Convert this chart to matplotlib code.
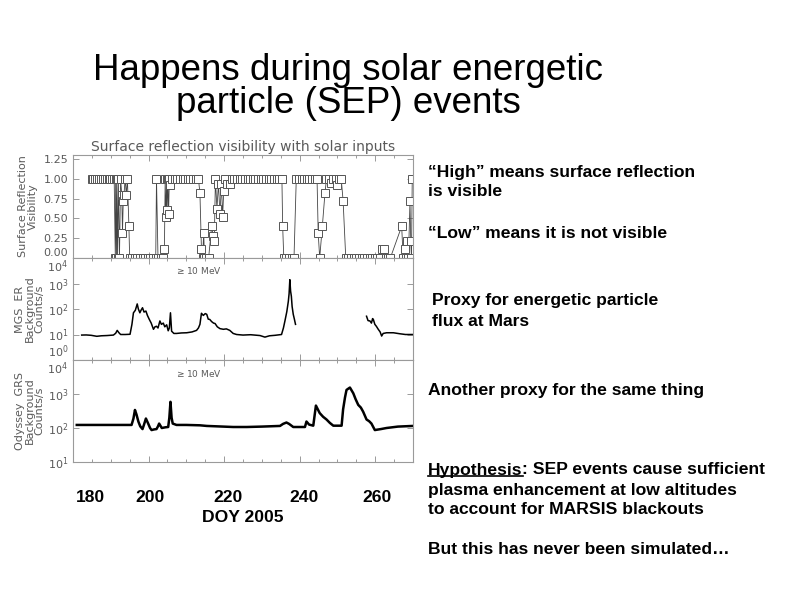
"""
slide: SEP events vs MARSIS surface reflection visibility
"""

import numpy as np
import matplotlib
matplotlib.use('Agg')
import matplotlib.pyplot as plt
from matplotlib.ticker import MultipleLocator
from matplotlib.lines import Line2D

# surface reflection visibility (DOY, value), in time order
vis_points = [
    (184.9, 1.0), (185.4, 1.0), (185.9, 1.0), (186.4, 1.0), (186.9, 1.0), (187.4, 1.0),
    (187.9, 1.0), (188.4, 1.0), (188.9, 1.0), (189.4, 1.0), (189.9, 1.0), (190.4, 1.0),
    (190.9, 1.0), (191.2, 0.0), (191.3, 1.0), (191.5, 0.0), (191.6, 1.0), (191.8, 0.0),
    (192.0, 1.0), (192.3, 0.0), (192.6, 1.0), (192.9, 0.8), (193.1, 0.32), (193.3, 0.72),
    (193.5, 0.8), (193.8, 1.0), (194.1, 0.8), (194.4, 1.0), (194.8, 0.4), (195.0, 0.0),
    (195.6, 0.0), (196.3, 0.0), (197.0, 0.0), (197.7, 0.0), (198.4, 0.0), (199.1, 0.0),
    (199.8, 0.0), (200.5, 0.0), (201.2, 0.0), (201.9, 0.0), (202.1, 1.0), (202.5, 0.0),
    (203.2, 0.0), (203.9, 0.0), (204.2, 0.11), (204.4, 1.0), (204.6, 0.52), (204.8, 1.0),
    (204.9, 0.6), (205.1, 1.0), (205.3, 0.55), (205.5, 1.0), (205.8, 0.92), (206.2, 1.0),
    (206.9, 1.0), (207.6, 1.0), (208.3, 1.0), (209.0, 1.0), (209.7, 1.0), (210.4, 1.0),
    (211.1, 1.0), (211.8, 1.0), (212.5, 1.0), (213.2, 1.0), (213.6, 0.82), (214.0, 0.11),
    (214.3, 0.0), (214.6, 0.32), (214.8, 0.0), (215.3, 0.0), (215.9, 0.0), (216.7, 0.4),
    (217.1, 0.28), (217.4, 0.21), (217.7, 1.0), (218.1, 0.62), (218.5, 0.94), (218.9, 0.55),
    (219.3, 0.94), (219.6, 0.52), (219.9, 0.84), (220.3, 1.0), (220.8, 0.94), (221.5, 0.94),
    (222.0, 1.0), (222.7, 1.0), (223.4, 1.0), (224.1, 1.0), (224.8, 1.0), (225.5, 1.0),
    (226.2, 1.0), (226.9, 1.0), (227.6, 1.0), (228.3, 1.0), (229.0, 1.0), (229.7, 1.0),
    (230.4, 1.0), (231.1, 1.0), (231.8, 1.0), (232.5, 1.0), (233.2, 1.0), (233.9, 1.0),
    (234.6, 1.0), (235.3, 1.0), (235.5, 0.4), (235.8, 0.0), (236.5, 0.0), (237.2, 0.0),
    (237.9, 0.0), (238.5, 0.0), (239.1, 1.0), (239.8, 1.0), (240.5, 1.0), (241.2, 1.0),
    (241.9, 1.0), (242.6, 1.0), (243.3, 1.0), (244.0, 1.0), (244.6, 1.0), (244.9, 0.32),
    (245.3, 0.0), (246.0, 0.4), (246.7, 0.82), (247.1, 1.0), (247.7, 1.0), (248.3, 0.95),
    (248.9, 1.0), (249.5, 1.0), (249.8, 0.92), (250.4, 1.0), (251.0, 1.0), (251.5, 0.72),
    (252.2, 0.0), (252.9, 0.0), (253.6, 0.0), (254.3, 0.0), (255.0, 0.0), (255.7, 0.0),
    (256.4, 0.0), (257.1, 0.0), (257.8, 0.0), (258.5, 0.0), (259.2, 0.0), (259.9, 0.0),
    (260.6, 0.0), (261.3, 0.0), (261.7, 0.11), (262.2, 0.11), (262.8, 0.0), (263.4, 0.0),
    (264.0, 0.0), (267.0, 0.4), (267.4, 0.0), (267.8, 0.11), (268.2, 0.0), (268.5, 0.22),
    (268.8, 0.0), (269.2, 0.72), (269.4, 0.22), (269.6, 0.0), (269.8, 1.0),
]

# MGS ER background counts/s (>=10 MeV); nan = data gap
mgs_doy = [182.3, 183.5, 184.8, 186.3, 187.5, 189.0, 190.7, 191.3, 191.7, 192.1, 192.6, 193.8,
           195.1, 195.6, 196.0, 196.5, 197.0, 197.3, 197.7, 198.0, 198.4, 198.8, 199.3, 199.7,
           200.2, 200.7, 201.3, 201.7, 202.1, 202.5, 203.0, 203.4, 203.9, 204.3, 204.8, 205.2,
           205.5, 205.8, 206.1, 206.7, 207.4, 208.7, 210.1, 211.5, 212.7, 213.2, 213.6, 214.0,
           214.5, 215.0, 215.4, 215.8, 216.2, 216.7, 217.2, 217.6, 218.2, 218.9, 219.8, 220.6,
           221.5, 222.4, 223.3, 225.0, 227.0, 229.5, 230.8, 232.0, 233.5, 235.2, 235.7, 236.1,
           236.6, 237.0, 237.2, 237.4, 237.6, 237.8, 238.0, 238.3, 238.6, 238.9, 248.0,
           257.7, 258.1, 258.6, 259.0, 259.3, 259.5, 259.9, 260.3, 260.8, 261.3, 261.7, 262.1,
           263.0, 264.8, 266.5, 268.0, 270.0]
mgs_counts = [9.5, 9.6, 9.3, 8.5, 8.9, 9.1, 9.5, 11.2, 14.5, 12, 10, 10,
              10.2, 25, 71, 89, 158, 100, 71, 89, 112, 76, 83, 56,
              39, 28, 16, 20, 21, 18, 34, 25, 28, 20, 24, 14,
              18, 71, 13.5, 11, 11, 11.5, 11.7, 12.6, 14.5, 18, 25, 68,
              56, 66, 62, 40, 39, 32, 28, 27, 20, 17, 16, 16.6,
              14.5, 11, 10, 9.5, 9.8, 9.1, 7.9, 8.9, 9.3, 10, 18, 34,
              79, 200, 400, 1410, 500, 316, 126, 62, 40, 25, np.nan,
              52, 35, 34, 28, 42, 39, 25, 21, 16, 12.6, 8.7, 11,
              11.7, 11.7, 10.7, 10, 10]

# Odyssey GRS background counts/s (>=10 MeV)
grs_doy = [181.0, 183.0, 185.0, 190.0, 195.5, 196.0, 196.4, 196.8, 197.3, 197.8, 198.4, 198.8,
           199.3, 199.9, 200.4, 200.8, 201.5, 202.1, 202.5, 202.8, 203.5, 204.5, 205.2, 205.5,
           205.8, 206.1, 206.4, 207.4, 210.0, 213.6, 215.4, 218.0, 222.4, 226.0, 230.0, 234.8,
           235.6, 236.5, 237.2, 238.3, 241.4, 241.8, 242.5, 243.6, 244.3, 245.3, 246.2, 247.1,
           248.0, 248.9, 251.1, 251.5, 252.0, 252.4, 253.3, 254.2, 254.8, 255.5, 256.2, 256.8,
           257.7, 258.4, 259.0, 259.9, 261.5, 263.0, 266.0, 270.0]
grs_counts = [123, 123, 123, 123, 123, 190, 339, 251, 155, 112, 93, 126,
              190, 135, 100, 87, 91, 93, 112, 135, 100, 105, 107, 200,
              589, 200, 135, 123, 123, 120, 115, 112, 107, 107, 110, 115,
              132, 145, 132, 107, 107, 155, 126, 117, 457, 275, 214, 178,
              141, 117, 117, 355, 794, 1318, 1549, 1047, 708, 479, 398, 302,
              178, 158, 135, 87, 93, 100, 110, 115]

vis_ticks = [0, 0.25, 0.5, 0.75, 1.0, 1.25]
mgs_ticks = [1, 10, 100, 1e3, 1e4]
grs_ticks = [10, 100, 1e3, 1e4]

doy_labels = ['180', '200', '220', '240', '260']
doy_label_x = [90, 150, 228, 304, 377]   # pixel centres on the slide

W, H = 794, 595
fig = plt.figure(figsize=(W / 100, H / 100), dpi=100)
fig.patch.set_facecolor('white')

def fx(px):
    return px / W

def fy(py):
    return 1 - py / H

axcol = '#9a9a9a'
labcol = '#5a5a5a'

def style(ax):
    for sp in ax.spines.values():
        sp.set_color(axcol)
        sp.set_linewidth(0.8)
    ax.tick_params(which='both', direction='in', top=True, right=True,
                   colors=axcol, labelcolor=labcol, labelsize=8, width=0.7)
    ax.tick_params(which='major', length=4)
    ax.tick_params(which='minor', length=2)
    ax.set_xlim(180, 270)
    ax.xaxis.set_major_locator(MultipleLocator(20))
    ax.xaxis.set_minor_locator(MultipleLocator(5))
    ax.set_xticklabels([])

left, width = fx(73), (413 - 73) / W
ax1 = fig.add_axes([left, fy(258), width, 103 / H])
ax2 = fig.add_axes([left, fy(360), width, 102 / H])
ax3 = fig.add_axes([left, fy(462), width, 102 / H])

# top panel: visibility
vd = [p[0] for p in vis_points]
vv = [p[1] for p in vis_points]
ax1.plot(vd, vv, color='#444444', lw=0.6, marker='s', ms=5.5,
         mfc='white', mec='#555555', mew=0.7)
ax1.set_ylim(0, 1.30)
ax1.set_yticks(vis_ticks)
ax1.set_yticklabels(['%.2f' % t for t in vis_ticks])
style(ax1)
ax1.set_ylabel('Surface Reflection\nVisibility', color=labcol, fontsize=8,
               linespacing=1.0, labelpad=4)
ax1.set_title('Surface reflection visibility with solar inputs',
              color=labcol, fontsize=10, pad=3)

# middle panel: MGS ER
ax2.plot(mgs_doy, mgs_counts, color='black', lw=1.1)
ax2.set_yscale('log')
ax2.set_ylim(1, 1e4)
style(ax2)
ax2.set_yticks(mgs_ticks)
ax2.minorticks_off()
ax2.xaxis.set_minor_locator(MultipleLocator(5))
ax2.set_ylabel('MGS  ER\nBackground\nCounts/s', color=labcol, fontsize=8,
               linespacing=1.0, labelpad=2)
ax2.text(0.30, 0.88, r'$\geq$10 MeV', transform=ax2.transAxes, color=labcol,
         fontsize=6.5, ha='left', va='center')

# bottom panel: Odyssey GRS
ax3.plot(grs_doy, grs_counts, color='black', lw=1.8)
ax3.set_yscale('log')
ax3.set_ylim(10, 1e4)
style(ax3)
ax3.set_yticks(grs_ticks)
ax3.minorticks_off()
ax3.xaxis.set_minor_locator(MultipleLocator(5))
ax3.set_ylabel('Odyssey  GRS\nBackground\nCounts/s', color=labcol, fontsize=8,
               linespacing=1.0, labelpad=2)
ax3.text(0.30, 0.87, r'$\geq$10 MeV', transform=ax3.transAxes, color=labcol,
         fontsize=6.5, ha='left', va='center')

# keep the labels at shared panel edges apart
ax1.yaxis.get_major_ticks()[0].label1.set_va('bottom')
ax2.yaxis.get_major_ticks()[-1].label1.set_va('top')
ax2.yaxis.get_major_ticks()[0].label1.set_va('bottom')
ax3.yaxis.get_major_ticks()[-1].label1.set_va('top')

# slide text
sans = 'Liberation Sans'
fig.text(0.5 * (93 + 603) / W, fy(80), 'Happens during solar energetic',
         ha='center', va='baseline', fontsize=26.5, family=sans)
fig.text(0.5 * (93 + 603) / W, fy(113), 'particle (SEP) events',
         ha='center', va='baseline', fontsize=26.5, family=sans)

fs = 12.6
bold = dict(family=sans, fontweight='bold', fontsize=fs, va='center', ha='left')
fig.text(fx(428), fy(172), '\u201cHigh\u201d means surface reflection', **bold)
fig.text(fx(428), fy(192), 'is visible', **bold)
fig.text(fx(428), fy(234), '\u201cLow\u201d means it is not visible', **bold)
fig.text(fx(432), fy(301), 'Proxy for energetic particle', **bold)
fig.text(fx(432), fy(321), 'flux at Mars', **bold)
fig.text(fx(428), fy(391), 'Another proxy for the same thing', **bold)

hyp = fig.text(fx(428), fy(470), 'Hypothesis', **bold)
fig.canvas.draw()
bb = hyp.get_window_extent()
fig.text(bb.x1 / W, fy(470), ': SEP events cause sufficient', **bold)
fig.add_artist(Line2D([bb.x0 / W, bb.x1 / W], [bb.y0 / H + 0.002, bb.y0 / H + 0.002],
                      color='black', lw=1.2, transform=fig.transFigure))
fig.text(fx(428), fy(490), 'plasma enhancement at low altitudes', **bold)
fig.text(fx(428), fy(510), 'to account for MARSIS blackouts', **bold)
fig.text(fx(428), fy(550), 'But this has never been simulated\u2026', **bold)

for lab, px in zip(doy_labels, doy_label_x):
    fig.text(fx(px), fy(498), lab, family=sans, fontweight='bold', fontsize=fs,
             ha='center', va='center')
fig.text(fx(243), fy(518), 'DOY 2005', family=sans, fontweight='bold', fontsize=fs,
         ha='center', va='center')

fig.savefig('out.png', dpi=100)
